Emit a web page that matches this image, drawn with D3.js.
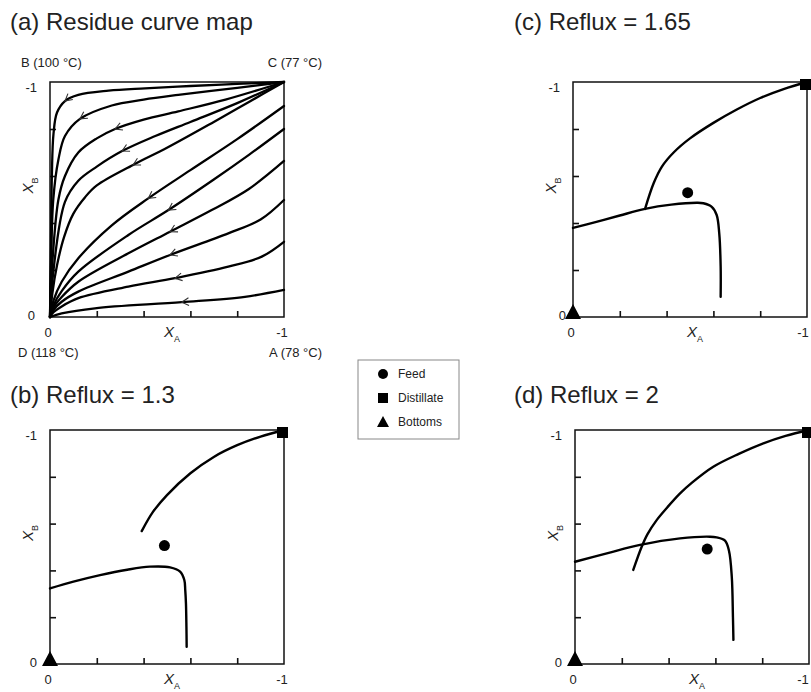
<html>
<head>
  <title>Residue curve map and column profiles</title>
  <script src="https://d3js.org/d3.v7.min.js"></script>
  <style>
    body {
      margin: 0;
      background: #ffffff;
    }

    svg text {
      font-family: "Liberation Sans", Arial, sans-serif;
      fill: #222222;
    }
  </style>
</head>

<body>
  <svg id="chart" width="811" height="692"></svg>

  <script>
    // ---- data (composition 0..1, axis ends labelled 0 and -1) ----
    const tickValues = [0, 0.2, 0.4, 0.6, 0.8, 1];
    const endLabels = ["0", "-1"];

    const panelTitles = ["(a) Residue curve map", "(b) Reflux = 1.3", "(c) Reflux = 1.65", "(d) Reflux = 2"];
    const cornerLabels = ["B (100 °C)", "C (77 °C)", "D (118 °C)", "A (78 °C)"];
    const legendLabels = ["Feed", "Distillate", "Bottoms"];

    // residue curves, from D (0,0) out to C or to the A edge
    const residueCurves = [
      [[0, 0], [0.004, 0.3], [0.008, 0.6], [0.015, 0.78], [0.03, 0.87], [0.064, 0.919], [0.121, 0.945], [0.25, 0.963], [0.406, 0.973], [0.6, 0.983], [0.8, 0.992], [1, 1]],
      [[0, 0], [0.004, 0.2], [0.014, 0.5], [0.036, 0.67], [0.064, 0.77], [0.128, 0.843], [0.264, 0.9], [0.4, 0.925], [0.548, 0.945], [0.8, 0.975], [1, 1]],
      [[0, 0], [0.008, 0.2], [0.036, 0.5], [0.064, 0.6], [0.121, 0.7], [0.2, 0.76], [0.278, 0.8], [0.4, 0.84], [0.548, 0.875], [0.75, 0.925], [1, 1]],
      [[0, 0], [0.015, 0.2], [0.064, 0.49], [0.121, 0.58], [0.2, 0.64], [0.308, 0.706], [0.45, 0.77], [0.6, 0.83], [0.8, 0.91], [1, 1]],
      [[0, 0], [0.01, 0.1], [0.03, 0.22], [0.06, 0.34], [0.1, 0.44], [0.15, 0.51], [0.2, 0.56], [0.355, 0.647], [0.5, 0.72], [0.7, 0.83], [0.85, 0.915], [1, 1]],
      [[0, 0], [0.015, 0.07], [0.05, 0.15], [0.121, 0.25], [0.264, 0.39], [0.42, 0.505], [0.6, 0.625], [0.8, 0.757], [1, 0.898]],
      [[0, 0], [0.015, 0.05], [0.05, 0.11], [0.121, 0.193], [0.335, 0.349], [0.506, 0.455], [0.7, 0.585], [0.85, 0.69], [1, 0.8]],
      [[0, 0], [0.015, 0.04], [0.05, 0.085], [0.121, 0.15], [0.335, 0.271], [0.513, 0.363], [0.691, 0.455], [0.85, 0.545], [1, 0.664]],
      [[0, 0], [0.015, 0.03], [0.05, 0.065], [0.121, 0.108], [0.335, 0.193], [0.513, 0.264], [0.762, 0.356], [0.9, 0.415], [1, 0.498]],
      [[0, 0], [0.015, 0.02], [0.05, 0.045], [0.121, 0.08], [0.335, 0.129], [0.534, 0.165], [0.762, 0.214], [0.905, 0.257], [1, 0.32]],
      [[0, 0], [0.05, 0.015], [0.192, 0.037], [0.563, 0.063], [0.833, 0.086], [1, 0.115]]
    ];
    // arrow heads on each residue curve (pointing towards D)
    const residueArrows = [
      [0.064, 0.919], [0.128, 0.843], [0.278, 0.8], [0.308, 0.706], [0.355, 0.647], [0.42, 0.505],
      [0.506, 0.455], [0.513, 0.363], [0.513, 0.264], [0.534, 0.165], [0.563, 0.063]
    ];

    // column profiles: rectifying section (from distillate) and stripping section (from bottoms)
    const rectifying13 = [[1, 1], [0.9, 0.972], [0.8, 0.935], [0.7, 0.885], [0.6, 0.815], [0.5, 0.722], [0.44, 0.65], [0.392, 0.568]];
    const stripping13 = [[0, 0.323], [0.1, 0.352], [0.214, 0.38], [0.33, 0.403], [0.427, 0.416], [0.513, 0.413], [0.556, 0.395], [0.574, 0.359], [0.578, 0.316], [0.581, 0.259], [0.583, 0.16], [0.584, 0.074]];
    const feed13 = [0.489, 0.506];

    const rectifying165 = [[1, 1], [0.9, 0.97], [0.8, 0.932], [0.7, 0.883], [0.6, 0.826], [0.5, 0.76], [0.43, 0.7], [0.38, 0.64], [0.345, 0.57], [0.308, 0.46]];
    const stripping165 = [[0, 0.379], [0.1, 0.405], [0.2, 0.432], [0.308, 0.46], [0.42, 0.478], [0.529, 0.486], [0.557, 0.484], [0.593, 0.469], [0.614, 0.434], [0.625, 0.356], [0.631, 0.214], [0.631, 0.086]];
    const feed165 = [0.49, 0.529];

    const rectifying2 = [[1, 1], [0.9, 0.975], [0.805, 0.943], [0.7, 0.898], [0.591, 0.843], [0.5, 0.775], [0.449, 0.729], [0.395, 0.67], [0.349, 0.615], [0.31, 0.555], [0.285, 0.501], [0.249, 0.402]];
    const stripping2 = [[0, 0.437], [0.14, 0.474], [0.278, 0.509], [0.449, 0.537], [0.577, 0.544], [0.605, 0.541], [0.641, 0.527], [0.658, 0.484], [0.67, 0.373], [0.675, 0.2], [0.677, 0.103]];
    const feed2 = [0.565, 0.491];

    const distillate = [1, 1];
    const bottoms = [0, 0];

    // ---- layout ----
    const W = 811;
    const svg = d3.select("#chart");

    const panels = [
      { left: 50, top: 82, w: 234, h: 235, titleX: 10, titleY: 30, yLab: 15 },
      { left: 50, top: 430, w: 234, h: 234, titleX: 10, titleY: 403, yLab: 13 },
      { left: 573, top: 82, w: 234, h: 235, titleX: 514, titleY: 30, yLab: 7 },
      { left: 575, top: 430, w: 234, h: 234, titleX: 514, titleY: 403, yLab: 13 }
    ];

    const line = d3.line().curve(d3.curveCatmullRom.alpha(0.5));

    function drawPanel(i) {
      const p = panels[i];
      const x = d3.scaleLinear().domain([0, 1]).range([p.left, p.left + p.w]);
      const y = d3.scaleLinear().domain([0, 1]).range([p.top + p.h, p.top]);
      const g = svg.append("g");

      g.append("text")
        .attr("x", p.titleX)
        .attr("y", p.titleY)
        .attr("font-size", "24px")
        .text(panelTitles[i]);

      // inward ticks
      g.append("g")
        .attr("transform", `translate(0,${y(0)})`)
        .call(d3.axisBottom(x).tickValues(tickValues.slice(1, -1)).tickSize(-6).tickFormat(""))
        .call(a => a.select(".domain").remove())
        .call(a => a.selectAll("line").attr("stroke", "#111").attr("stroke-width", 1.6));
      g.append("g")
        .attr("transform", `translate(${x(0)},0)`)
        .call(d3.axisLeft(y).tickValues(tickValues.slice(1, -1)).tickSize(-6).tickFormat(""))
        .call(a => a.select(".domain").remove())
        .call(a => a.selectAll("line").attr("stroke", "#111").attr("stroke-width", 1.6));

      g.append("rect")
        .attr("x", x(0)).attr("y", y(1))
        .attr("width", x(1) - x(0)).attr("height", y(0) - y(1))
        .attr("fill", "none")
        .attr("stroke", "#111")
        .attr("stroke-width", 1.5);

      // end labels
      g.append("text").attr("x", x(0) - 2).attr("y", y(0) + 20)
        .attr("text-anchor", "middle").attr("font-size", "13px").text(endLabels[0]);
      g.append("text").attr("x", Math.min(x(1) - 2, W - 8)).attr("y", y(0) + 20)
        .attr("text-anchor", "middle").attr("font-size", "13px").text(endLabels[1]);
      g.append("text").attr("x", x(0) - p.yLab).attr("y", y(0) + 3)
        .attr("text-anchor", "end").attr("font-size", "13px").text(endLabels[0]);
      g.append("text").attr("x", x(0) - 13).attr("y", y(1) + 10)
        .attr("text-anchor", "end").attr("font-size", "13px").text(endLabels[1]);

      // axis titles
      const xa = g.append("text")
        .attr("x", (x(0) + x(1)) / 2 + 5)
        .attr("y", y(0) + 20)
        .attr("text-anchor", "middle")
        .attr("font-size", "15px");
      xa.append("tspan").attr("font-style", "italic").text("X");
      xa.append("tspan").attr("font-size", "9px").attr("dy", 5).text("A");

      const yb = g.append("text")
        .attr("transform", `translate(${x(0) - 17},${(y(0) + y(1)) / 2 - 14}) rotate(-90)`)
        .attr("text-anchor", "middle")
        .attr("font-size", "15px");
      yb.append("tspan").attr("font-style", "italic").text("X");
      yb.append("tspan").attr("font-size", "9px").attr("dy", 5).text("B");

      return { g, x, y };
    }

    function drawCurve(g, x, y, pts, width) {
      g.append("path")
        .attr("d", line(pts.map(d => [x(d[0]), y(d[1])])))
        .attr("fill", "none")
        .attr("stroke", "#000")
        .attr("stroke-width", width)
        .attr("stroke-linecap", "round");
    }

    function drawMarkers(g, x, y, feed) {
      g.append("circle")
        .attr("cx", x(feed[0])).attr("cy", y(feed[1]))
        .attr("r", 5.5).attr("fill", "#000");
      g.append("rect")
        .attr("x", x(distillate[0]) - 7).attr("y", y(distillate[1]) - 3)
        .attr("width", 11).attr("height", 11).attr("fill", "#000");
      const bx = x(bottoms[0]), by = y(bottoms[1]);
      g.append("path")
        .attr("d", `M${bx - 8},${by + 2}L${bx + 8},${by + 2}L${bx},${by - 13}Z`)
        .attr("fill", "#000");
    }

    // (a) residue curve map
    const a = drawPanel(0);
    residueCurves.forEach(c => drawCurve(a.g, a.x, a.y, c, 2.3));

    residueArrows.forEach((pt, k) => {
      const pts = residueCurves[k];
      // tangent from the curve points either side of the arrow
      const j = d3.minIndex(pts, d => Math.abs(d[0] - pt[0]));
      const p0 = pts[Math.max(j - 1, 0)], p1 = pts[Math.min(j + 1, pts.length - 1)];
      const ang = Math.atan2(a.y(p1[1]) - a.y(p0[1]), a.x(p1[0]) - a.x(p0[0]));
      const tx = a.x(pt[0]), ty = a.y(pt[1]);
      const L = 8, spread = 0.5;
      const w1 = [tx + L * Math.cos(ang + spread), ty + L * Math.sin(ang + spread)];
      const w2 = [tx + L * Math.cos(ang - spread), ty + L * Math.sin(ang - spread)];
      a.g.append("path")
        .attr("d", `M${w1[0]},${w1[1]}L${tx},${ty}L${w2[0]},${w2[1]}`)
        .attr("fill", "none")
        .attr("stroke", "#333")
        .attr("stroke-width", 1.1);
    });

    // corner component labels
    [[0, 1, "start", 21, -15], [1, 1, "end", 322, -15], [0, 0, "start", 18, 40], [1, 0, "end", 322, 40]]
      .forEach((c, k) => {
        a.g.append("text")
          .attr("x", c[3])
          .attr("y", a.y(c[1]) + c[4])
          .attr("text-anchor", c[2])
          .attr("font-size", "13px")
          .text(cornerLabels[k]);
      });

    // (b)-(d) column profiles
    const profiles = [
      [rectifying13, stripping13, feed13],
      [rectifying165, stripping165, feed165],
      [rectifying2, stripping2, feed2]
    ];
    profiles.forEach((pr, k) => {
      const pnl = drawPanel(k + 1);
      drawCurve(pnl.g, pnl.x, pnl.y, pr[0], 2.4);
      drawCurve(pnl.g, pnl.x, pnl.y, pr[1], 2.4);
      drawMarkers(pnl.g, pnl.x, pnl.y, pr[2]);
    });

    // legend
    const lg = svg.append("g").attr("transform", "translate(358,360)");
    lg.append("rect")
      .attr("width", 101).attr("height", 79)
      .attr("fill", "#fff")
      .attr("stroke", "#888")
      .attr("stroke-width", 1);
    const rows = d3.range(legendLabels.length).map(k => 14 + k * 24);
    lg.append("circle").attr("cx", 25).attr("cy", rows[0]).attr("r", 5).attr("fill", "#000");
    lg.append("rect").attr("x", 20).attr("y", rows[1] - 5).attr("width", 10).attr("height", 10).attr("fill", "#000");
    lg.append("path").attr("d", `M${19},${rows[2] + 5}L${31},${rows[2] + 5}L${25},${rows[2] - 6}Z`).attr("fill", "#000");
    legendLabels.forEach((t, k) => {
      lg.append("text")
        .attr("x", 40)
        .attr("y", rows[k] + 4)
        .attr("font-size", "12px")
        .text(t);
    });
  </script>
</body>

</html>
